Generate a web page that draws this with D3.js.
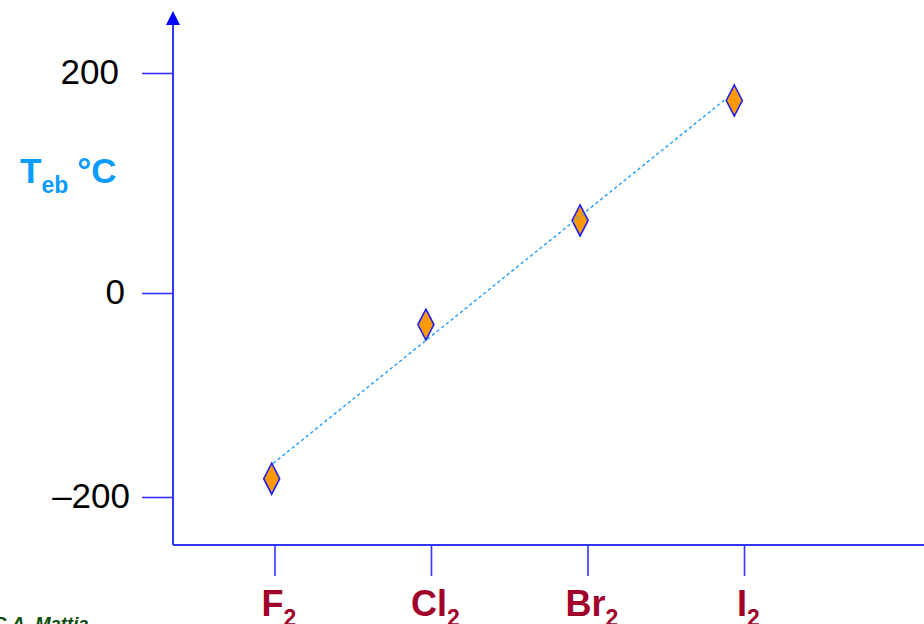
<!DOCTYPE html>
<html>
<head>
<meta charset="utf-8">
<script src="https://cdn.jsdelivr.net/npm/d3@7"></script>
<style>
  html, body { margin: 0; padding: 0; background: #ffffff; }
  svg { display: block; }
</style>
</head>
<body>
<svg id="chart" width="924" height="624"></svg>
<script>
// Boiling temperatures of the diatomic halogens (°C)
const halogens = ["F", "Cl", "Br", "I"];
const boilingPoints = [-182, -31, 66, 175];
const yTicks = [200, 0, -200];
// Dotted trend line: category position and temperature at each end
const trendPos = [0.01, 2.95];
const trendTemps = [-167, 177];

const svg = d3.select("#chart");
const FONT = "'Liberation Sans', Arial, Helvetica, sans-serif";
const AXIS = "#3434ff";

// Vertical scale: the upper and lower halves of the axis are spaced a little differently
const y = d3.scaleLinear().domain([-200, 0, 200]).range([497, 293, 73]);
// Category ticks along the baseline
const xTick = d3.scalePoint().domain(halogens).range([275, 744.5]);
// Markers sit on a slightly narrower grid than the ticks
const xMark = d3.scaleLinear().domain([0, halogens.length - 1]).range([271.7, 734.3]);

const axisX = 173, axisY = 545;

// ---- y axis ----
const yAxis = d3.axisLeft(y)
  .tickValues(yTicks)
  .tickSize(31)
  .tickPadding(19)
  .tickFormat(d => d < 0 ? "\u2013" + Math.abs(d) : String(d));

const gy = svg.append("g").attr("transform", `translate(${axisX},0)`).call(yAxis);
gy.select(".domain").remove();
gy.selectAll(".tick line").attr("stroke", AXIS).attr("stroke-width", 1.6);
const labelNudge = { "200": 4, "0": -2, "-200": -7 };
gy.selectAll(".tick text")
  .attr("fill", "#000")
  .attr("font-family", FONT)
  .attr("font-size", 35)
  .attr("dy", "0.29em")
  .attr("dx", d => -labelNudge[String(d)]);

// vertical axis line with arrowhead
svg.append("line")
  .attr("x1", axisX).attr("x2", axisX)
  .attr("y1", axisY).attr("y2", 24)
  .attr("stroke", AXIS).attr("stroke-width", 2);
svg.append("path")
  .attr("d", d3.line()([[axisX - 7, 25], [axisX, 11], [axisX + 7, 25]]) + "Z")
  .attr("fill", "#0000ff");

// ---- x axis ----
svg.append("line")
  .attr("x1", axisX).attr("x2", 930)
  .attr("y1", axisY).attr("y2", axisY)
  .attr("stroke", AXIS).attr("stroke-width", 2);

const gx = svg.append("g").attr("transform", `translate(0,${axisY})`);
gx.selectAll("line.tick")
  .data(halogens)
  .join("line")
  .attr("class", "tick")
  .attr("x1", d => xTick(d)).attr("x2", d => xTick(d))
  .attr("y1", 0).attr("y2", 31)
  .attr("stroke", AXIS).attr("stroke-width", 1.6);

const xl = gx.selectAll("text.cat")
  .data(halogens)
  .join("text")
  .attr("class", "cat")
  .attr("x", d => xTick(d) + 4)
  .attr("y", 71)
  .attr("text-anchor", "middle")
  .attr("font-family", FONT)
  .attr("font-weight", "bold")
  .attr("font-size", 36)
  .attr("fill", "#a0002a");
xl.append("tspan").text(d => d);
xl.append("tspan").attr("font-size", 23).attr("dy", 10).text("2");

// ---- y axis title: T_eb °C ----
const title = svg.append("text")
  .attr("x", 20)
  .attr("y", 183)
  .attr("font-family", FONT)
  .attr("font-weight", "bold")
  .attr("font-size", 35)
  .attr("fill", "#0a9bff");
title.append("tspan").text("T");
title.append("tspan").attr("font-size", 23).attr("dy", 10).text("eb");
title.append("tspan").attr("dy", -10).attr("dx", 9).text("°C");

// ---- trend line ----
svg.append("line")
  .attr("x1", xMark(trendPos[0])).attr("y1", y(trendTemps[0]))
  .attr("x2", xMark(trendPos[1])).attr("y2", y(trendTemps[1]))
  .attr("stroke", "#2fa4ff")
  .attr("stroke-width", 1.2)
  .attr("stroke-dasharray", "3,3");

// ---- diamond markers ----
const diamond = "M0,-15.5L8,0L0,15.5L-8,0Z";
svg.append("g").selectAll("path")
  .data(boilingPoints)
  .join("path")
  .attr("d", diamond)
  .attr("transform", (d, i) => `translate(${xMark(i)},${y(d)})`)
  .attr("fill", "#ff9900")
  .attr("stroke", "#1c1cff")
  .attr("stroke-width", 1.6);

// re-draw the trend line over the markers where it crosses them
svg.append("line")
  .attr("x1", xMark(trendPos[0])).attr("y1", y(trendTemps[0]))
  .attr("x2", xMark(trendPos[1])).attr("y2", y(trendTemps[1]))
  .attr("stroke", "#2fa4ff")
  .attr("stroke-width", 1.2)
  .attr("stroke-dasharray", "3,3");

// ---- credit ----
svg.append("text")
  .attr("x", -7)
  .attr("y", 630)
  .attr("font-family", FONT)
  .attr("font-weight", "bold")
  .attr("font-style", "italic")
  .attr("font-size", 18.5)
  .attr("fill", "#0b4d0b")
  .text("C.A. Mattia");
</script>
</body>
</html>
